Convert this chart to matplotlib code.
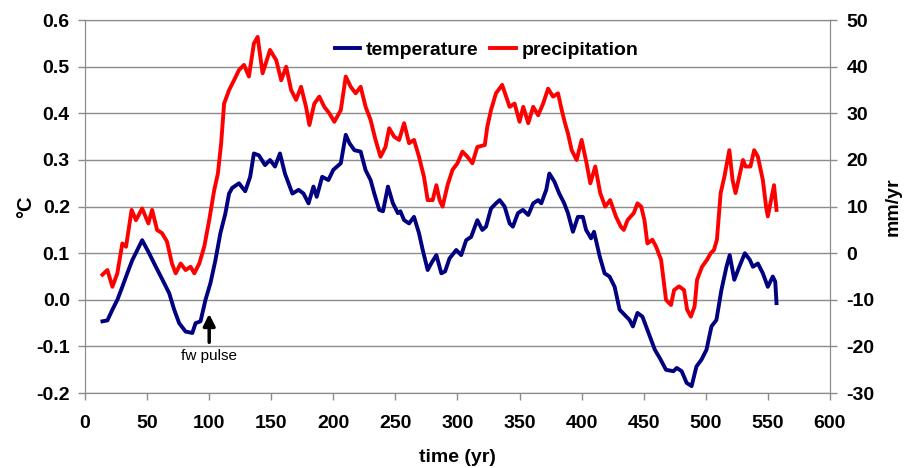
import numpy as np
import matplotlib
matplotlib.use("Agg")
import matplotlib.pyplot as plt

# -----------------------------
# Data
# -----------------------------
temp_time = [14, 18, 22, 26, 30, 34, 38, 46, 51.6, 57, 62.4, 67.8, 71.8, 75.8, 81, 86.4,
             89, 93, 97, 101, 105, 109, 113, 116, 118.5, 124, 129, 133, 136, 140, 145,
             149, 153, 157, 161, 167, 172, 176, 180, 184, 186.6, 191, 196, 200, 206, 210,
             213, 217, 222, 226, 230, 233, 237, 240, 244, 248, 252, 254, 257, 261, 265,
             269, 272, 276, 279, 283, 287, 290, 293.6, 299, 303, 307, 311, 316, 320, 323,
             327, 331, 334, 338, 342, 344.6, 348.7, 352.7, 357, 361, 365, 367.5, 371.5,
             374, 378, 382, 386, 389, 393, 397, 401, 403.6, 407.6, 410, 414.6, 418.5,
             422.5, 426.6, 430.6, 434.6, 438.6, 441.3, 445, 449, 455, 459, 463, 468, 474,
             476.6, 480.6, 484.6, 488.6, 492.5, 496.6, 500.6, 504.6, 508.6, 512.6, 516.7,
             519.3, 523, 527, 531.5, 535.5, 538, 542, 546, 550, 554, 556, 557]
temperature = [-0.046, -0.044, -0.021, 0.0, 0.028, 0.057, 0.085, 0.128, 0.10, 0.071, 0.043,
               0.014, -0.021, -0.050, -0.068, -0.071, -0.050, -0.046, 0.0, 0.036, 0.085,
               0.143, 0.185, 0.228, 0.24, 0.25, 0.233, 0.264, 0.314, 0.31, 0.289, 0.30,
               0.286, 0.314, 0.271, 0.228, 0.236, 0.228, 0.207, 0.243, 0.221, 0.264, 0.257,
               0.279, 0.293, 0.354, 0.336, 0.321, 0.318, 0.278, 0.257, 0.228, 0.193, 0.19,
               0.243, 0.207, 0.186, 0.19, 0.171, 0.164, 0.178, 0.143, 0.107, 0.064, 0.079,
               0.096, 0.057, 0.061, 0.089, 0.107, 0.096, 0.128, 0.135, 0.171, 0.150, 0.157,
               0.196, 0.207, 0.214, 0.200, 0.164, 0.157, 0.186, 0.193, 0.182, 0.207, 0.214,
               0.207, 0.236, 0.271, 0.254, 0.228, 0.207, 0.186, 0.146, 0.178, 0.178, 0.150,
               0.132, 0.146, 0.093, 0.057, 0.050, 0.028, -0.021, -0.032, -0.043, -0.057,
               -0.028, -0.036, -0.079, -0.107, -0.125, -0.150, -0.153, -0.146, -0.153,
               -0.178, -0.185, -0.143, -0.128, -0.107, -0.057, -0.043, 0.021, 0.071, 0.096,
               0.043, 0.071, 0.100, 0.086, 0.071, 0.078, 0.057, 0.028, 0.050, 0.039, -0.007]

precip_time = [14, 18, 22, 26, 30, 33, 37.5, 41, 46, 51, 54, 58, 62, 66, 70, 73, 77, 81, 85,
               88, 92, 96, 100, 104, 107, 109.6, 112, 116, 120, 124, 128, 132, 136, 139,
               143, 149, 154, 158, 162, 166, 170, 174, 178, 180.7, 184.7, 188.7, 192.7,
               196.8, 200.8, 206, 210, 214, 218, 222, 226, 230, 234, 238, 242, 245, 249,
               253, 257, 261, 265, 269, 273, 276, 280, 283, 285.6, 288, 292, 296, 300, 304,
               308, 312, 316, 322, 324, 327, 331, 336, 342, 346, 350, 353, 357, 361, 365,
               369, 373, 377, 381, 384, 386.6, 389, 392, 396, 400, 404, 407, 411, 415, 419,
               423, 427.6, 431.6, 434, 437, 439.6, 442, 445, 448, 450.6, 453, 457, 460, 464,
               468, 472, 474.5, 478.5, 482.5, 485, 488, 491, 493, 497, 501, 504, 506.6, 509,
               512, 515, 519, 521.6, 524, 527, 530, 532, 536, 539, 542, 546, 548.6, 550,
               552.6, 555, 557]
precipitation = [-4.6, -3.6, -7.2, -4.3, 2.1, 1.4, 9.3, 7.1, 9.6, 6.4, 9.3, 5.0, 4.3, 2.5,
                 -2.2, -4.3, -2.2, -3.6, -2.9, -4.3, -2.2, 1.4, 7.1, 13.5, 17.1, 23.5, 32.1,
                 35.0, 37.1, 39.3, 40.4, 37.9, 45.0, 46.4, 38.6, 43.6, 41.4, 37.1, 40.0, 35.0,
                 32.9, 35.7, 31.4, 27.5, 32.1, 33.6, 31.4, 30.0, 28.2, 30.7, 37.9, 35.7, 34.3,
                 35.7, 31.4, 28.6, 24.3, 20.7, 22.8, 26.8, 25.0, 24.3, 27.9, 23.6, 24.3, 20.7,
                 16.4, 11.4, 11.4, 14.6, 11.4, 10.0, 14.6, 17.9, 19.3, 21.8, 20.7, 19.3, 22.8,
                 23.2, 27.1, 30.7, 34.3, 36.1, 31.4, 32.1, 28.2, 31.4, 27.9, 31.4, 29.6, 32.1,
                 35.3, 33.6, 34.3, 30.7, 27.9, 25.7, 22.1, 20.0, 24.3, 19.3, 15.0, 18.6, 12.9,
                 10.0, 11.4, 7.9, 5.7, 5.0, 7.1, 7.9, 8.6, 10.7, 10.0, 7.1, 2.1, 2.9, 1.4,
                 -1.4, -10.0, -11.1, -7.9, -7.1, -7.9, -12.1, -13.6, -11.4, -5.7, -2.9, -1.4,
                 0.0, 0.7, 2.9, 12.9, 16.4, 22.1, 15.7, 12.9, 16.4, 20.0, 18.6, 18.6, 22.1,
                 20.7, 15.7, 10.0, 7.9, 11.4, 14.6, 9.3]

x_ticks = np.arange(0, 601, 50)
temp_ticks = np.arange(-0.2, 0.61, 0.1)
precip_ticks = np.arange(-30, 51, 10)

# -----------------------------
# Plot
# -----------------------------
plt.rcParams['font.family'] = ['Liberation Sans', 'DejaVu Sans']

fig = plt.figure(figsize=(9.05, 4.68), dpi=100)
ax = fig.add_axes([0.094, 0.160, 0.823, 0.797])
ax2 = ax.twinx()

grid_col = '#8c8c8c'
ax.set_xlim(0, 600)
ax.set_ylim(-0.2, 0.6)
ax2.set_ylim(-30, 50)
ax.set_xticks(x_ticks)
ax.set_yticks(temp_ticks)
ax2.set_yticks(precip_ticks)
ax.yaxis.grid(True, color=grid_col, linewidth=1.0)
ax.set_axisbelow(True)

for a in (ax, ax2):
    for s in a.spines.values():
        s.set_color(grid_col)
    a.tick_params(colors=grid_col, length=5, width=1, labelcolor='black')
ax.tick_params(axis='x', pad=11)
ax.tick_params(axis='y', pad=6)
ax2.tick_params(axis='y', pad=7)
ax.set_xticklabels([str(v) for v in x_ticks], fontsize=14, fontweight='bold')
ax.set_yticklabels(['%.1f' % v for v in temp_ticks], fontsize=14, fontweight='bold')
ax2.set_yticklabels([str(v) for v in precip_ticks], fontsize=14, fontweight='bold')

l1, = ax.plot(temp_time, temperature, color='#000080', linewidth=2.8)
l2, = ax2.plot(precip_time, precipitation, color='#ff0000', linewidth=2.8)

ax.set_xlabel('time (yr)', fontsize=14, fontweight='bold', labelpad=12)
ax.set_ylabel('°C', fontsize=14.5, fontweight='bold', labelpad=1)
ax2.set_ylabel('mm/yr', fontsize=14, fontweight='bold', labelpad=7)

ax.annotate('', xy=(100, -0.024), xytext=(100, -0.097),
            arrowprops=dict(arrowstyle='-|>,head_width=0.35,head_length=0.7',
                            color='black', linewidth=2.5))
ax.text(100, -0.12, 'fw pulse', ha='center', va='center', fontsize=11)

leg = ax2.legend([l1, l2], ['temperature', 'precipitation'], loc='upper center',
                 bbox_to_anchor=(0.539, 0.99), ncol=2, frameon=False, handlelength=1.3,
                 handletextpad=0.3, columnspacing=0.6, prop={'weight': 'bold', 'size': 14})

fig.savefig('out.png', dpi=100)
